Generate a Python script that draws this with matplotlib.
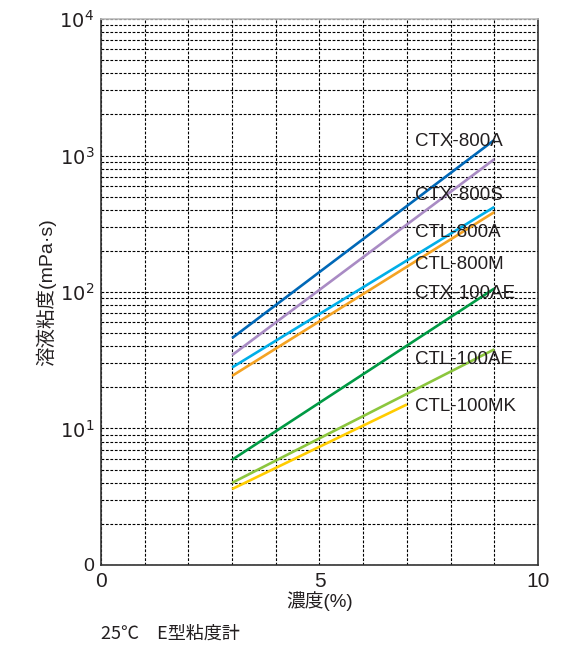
import matplotlib
matplotlib.use('Agg')
import matplotlib.pyplot as plt
from matplotlib.ticker import FixedLocator, LogLocator, NullFormatter

plt.rcParams['font.family'] = ['Liberation Sans', 'Noto Sans CJK JP']

# data (concentration %, viscosity mPa·s)
names = ['CTX-800A', 'CTX-800S', 'CTL-800A', 'CTL-800M', 'CTX-100AE', 'CTL-100AE', 'CTL-100MK']
conc_start = [3, 3, 3, 3, 3, 3, 3]
conc_end = [9, 9, 9, 9, 9, 9, 7]
visc_start = [46, 34.5, 28, 24.3, 5.9, 4.0, 3.6]
visc_end = [1300, 940, 420, 385, 106, 38, 15]
label_y = [1277, 513, 275, 160, 98, 32, 14.4]
colors = ['#0068b7', '#a98bc4', '#00aee8', '#f4a323', '#009a44', '#8cc63e', '#ffcc00']

fig = plt.figure(figsize=(5.69, 6.53), dpi=100)
ax = fig.add_axes([0.1775, 0.1348, 0.768, 0.836])

for i in range(len(names)):
    ax.plot([conc_start[i], conc_end[i]], [visc_start[i], visc_end[i]],
            color=colors[i], lw=1.9, solid_capstyle='butt', zorder=3)
    ax.text(7.18, label_y[i], names[i], fontsize=13.5, color='#231f20',
            va='center', ha='left', zorder=4)

ax.set_yscale('log')
ax.set_xlim(0, 10)
ax.set_ylim(1, 1e4)

ax.xaxis.set_major_locator(FixedLocator([0, 5, 10]))
ax.xaxis.set_minor_locator(FixedLocator(range(11)))
ax.set_xticklabels(['0', '5', '10'], fontsize=15)
ax.yaxis.set_major_locator(FixedLocator([1, 10, 100, 1000, 10000]))
ax.yaxis.set_minor_locator(LogLocator(base=10, subs=range(2, 10)))
ax.yaxis.set_minor_formatter(NullFormatter())
ax.set_yticklabels(['0', '$10^1$', '$10^2$', '$10^3$', '$10^4$'], fontsize=14)
ax.tick_params(which='both', length=0, pad=5, colors='#231f20')

ax.grid(True, which='both', axis='both', color='black', ls=(0, (2.5, 1.5)), lw=0.8)
ax.set_axisbelow(True)
for s in ax.spines.values():
    s.set_color('#333333')
    s.set_linewidth(1.2)
ax.spines['top'].set_color('#bbbbbb')

ax.set_xlabel('濃度(%)', fontsize=13.5, labelpad=0, color='#231f20')
ax.set_ylabel('溶液粘度(mPa·s)', fontsize=14, labelpad=2, color='#231f20')

fig.text(0.1775, 0.022, '25℃　E型粘度計', fontsize=13, color='#231f20',
         family=['Noto Sans CJK JP', 'DejaVu Sans'])

plt.savefig('out.png', dpi=100)
